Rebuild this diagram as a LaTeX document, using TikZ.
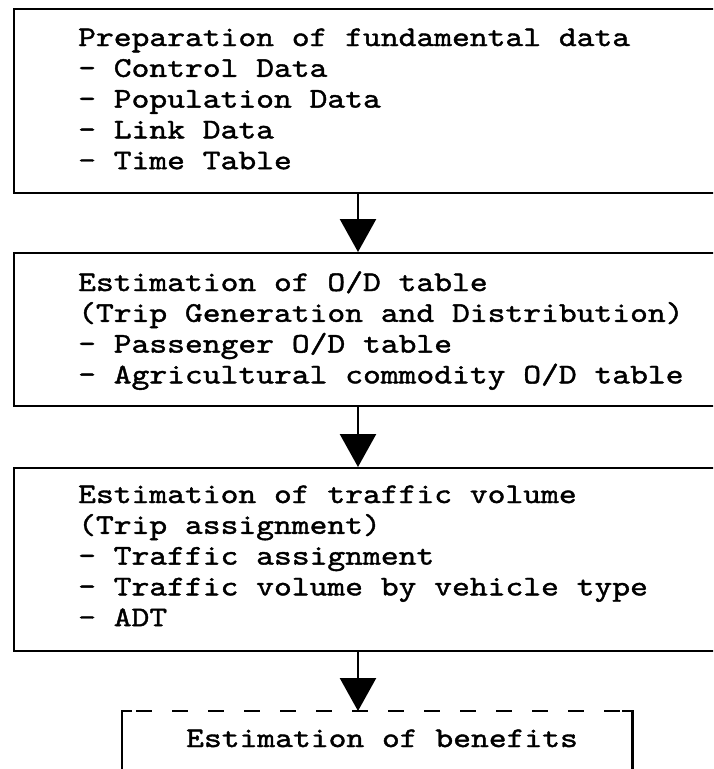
\documentclass[tikz,border=0pt]{standalone}
\usepackage{fontspec}
\usetikzlibrary{arrows.meta}
\newfontfamily\stagefont{lmmono10-regular.otf}[FakeStretch=1.19, FakeBold=1.4]
\newcommand\boxfont{\stagefont\fontsize{28.5}{30.8}\selectfont}
\newcommand\stagelines[1]{\begin{tabular}[t]{@{}l@{}}#1\end{tabular}}
\tikzset{
  stage/.style={draw, line width=1.8pt, rectangle, inner sep=0pt, anchor=north west},
  frame/.style={rectangle, inner sep=0pt, anchor=north west},
  txt/.style={inner sep=0pt, anchor=base west, font=\boxfont},
  flow/.style={line width=2.5pt, -{Triangle[width=36pt,length=33pt]}},
  dashtop/.style={line width=1.2pt, dash pattern=on 16pt off 20pt, dash phase=-14pt},
  bracket/.style={line width=2.4pt},
}
\begin{document}
\begin{tikzpicture}[x=1pt,y=-1pt]
\useasboundingbox (0,0) rectangle (713,769);
\fill[white] (0,0) rectangle (713,769);
\clip (0,0) rectangle (713,769);
% stage boxes (right side runs off the page)
\node[stage, minimum width=800pt, minimum height=184pt] (b1) at (13,8) {};
\node[stage, minimum width=800pt, minimum height=153pt] (b2) at (13,252) {};
\node[stage, minimum width=800pt, minimum height=183pt] (b3) at (13,467) {};
\node[frame, minimum width=510pt, minimum height=80pt] (bx) at (122,711) {};
% texts
\node[txt] (t1) at (78,46) {\stagelines{Preparation of fundamental data\\- Control Data\\- Population Data\\- Link Data\\- Time Table}};
\node[txt] (t2) at (78,291) {\stagelines{Estimation of O/D table\\(Trip Generation and Distribution)\\- Passenger O/D table\\- Agricultural commodity O/D table}};
\node[txt] (t3) at (78,503) {\stagelines{Estimation of traffic volume\\(Trip assignment)\\- Traffic assignment\\- Traffic volume by vehicle type\\- ADT}};
\node[txt] (t4) at (186,747) {\stagelines{Estimation of benefits}};
% connectors
\coordinate (ax) at (358,0);
\draw[flow] (b1.south -| ax) -- (b2.north -| ax);
\draw[flow] (b2.south -| ax) -- (b3.north -| ax);
\draw[flow] (b3.south -| ax) -- (bx.north -| ax);
% benefits frame: dashed top, solid sides
\draw[dashtop] (bx.north west) -- (bx.north east);
\draw[bracket] ([xshift=10pt]bx.north west) -- (bx.north west) -- (bx.south west);
\draw[bracket] ([xshift=-10pt]bx.north east) -- (bx.north east) -- (bx.south east);
\end{tikzpicture}
\end{document}
